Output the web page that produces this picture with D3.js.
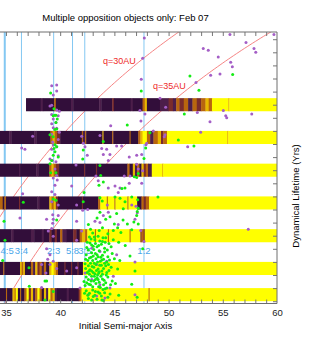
<!DOCTYPE html>
<html>
<head>
    <meta charset="utf-8">
    <title>Multiple opposition objects only</title>
    <script src="https://d3js.org/d3.v7.min.js"></script>
    <style>
        body { margin: 0; background: #fff; }
        text { font-family: "Liberation Sans", Arial, sans-serif; }
    </style>
</head>
<body>
<div id="chart"></div>
<script>

// resonance locations (AU)
var resNames = ["4:5", "3:4", "2:3", "5:8", "3:5", "1:2"];
var resA = [34.89, 36.43, 39.40, 41.14, 42.27, 47.73];

// perihelion guide lines
var qValues = [30, 35];
var qLabels = ["q=30AU", "q=35AU"];

// eccentricity of each lifetime strip
var bandE = [0.30, 0.25, 0.20, 0.15, 0.10, 0.05, 0.01];

// lifetime strips: [a from, a to, level 0..5]
var band1 = [[36.85,38.2,0],[38.2,38.4,1],[38.4,39.45,0],[39.45,39.6,3],[39.6,41.0,0],[41.0,41.2,1],[41.2,43.6,0],[43.6,43.8,1],[43.8,44.8,0],[44.8,44.95,2],
    [44.95,46.5,0],[46.5,46.7,1],[46.7,47.6,0],[47.6,47.8,3],[47.8,48.0,4],[48.0,49.2,0],[49.2,50.0,1],[50.0,50.4,2],[50.4,50.7,1],[50.7,51.0,3],
    [51.0,51.4,2],[51.4,51.8,3],[51.8,52.2,1],[52.2,52.6,3],[52.6,53.0,2],[53.0,53.4,3],[53.4,53.7,4],[53.7,54.0,3],[54.0,55.5,5],[55.5,55.6,4],[55.6,60,5]];
var band2 = [[34.0,35.3,0],[35.3,35.5,1],[35.5,37.6,0],[37.6,37.8,1],[37.8,39.1,0],[39.1,39.3,3],[39.3,39.5,4],[39.5,39.7,3],[39.7,40.0,2],[40.0,42.0,0],
    [42.0,42.1,3],[42.1,42.3,1],[42.3,42.4,3],[42.4,43.9,0],[43.9,44.0,4],[44.0,44.8,0],[44.8,44.9,3],[44.9,46.4,0],[46.4,46.5,3],[46.5,47.2,0],
    [47.2,47.4,3],[47.4,47.6,4],[47.6,48.0,5],[48.0,48.3,3],[48.3,48.6,1],[48.6,49.0,3],[49.0,49.3,4],[49.3,49.5,2],[49.5,49.85,3],[49.85,55.4,5],[55.4,55.5,4],[55.5,60,5]];
var band3 = [[34.0,36.2,0],[36.2,36.3,1],[36.3,37.8,0],[37.8,38.0,1],[38.0,39.0,0],[39.0,39.2,3],[39.2,39.4,4],[39.4,39.6,3],[39.6,39.9,2],[39.9,42.2,0],
    [42.2,42.3,2],[42.3,43.3,0],[43.3,43.4,2],[43.4,46.2,0],[46.2,46.4,3],[46.4,46.7,0],[46.7,46.9,4],[46.9,47.1,1],[47.1,47.3,3],[47.3,47.5,0],
    [47.5,47.7,4],[47.7,47.9,2],[47.9,48.1,3],[48.1,48.45,1],[48.45,49.4,5],[49.4,49.5,4],[49.5,60,5]];
var band4 = [[34.0,34.7,3],[34.7,34.85,0],[34.85,35.0,3],[35.0,36.2,0],[36.2,36.3,2],[36.3,37.9,0],[37.9,38.1,1],[38.1,39.0,0],[39.0,39.2,4],[39.2,39.4,3],
    [39.4,39.6,4],[39.6,39.8,2],[39.8,42.0,0],[42.0,42.1,2],[42.1,43.5,0],[43.5,43.7,3],[43.7,44.3,5],[44.3,44.4,3],[44.4,45.0,5],[45.0,45.1,3],
    [45.1,46.2,5],[46.2,46.3,3],[46.3,47.1,5],[47.1,47.5,0],[47.5,47.7,3],[47.7,47.9,2],[47.9,48.2,3],[48.2,60,5]];
var band5 = [[34.0,35.5,0],[35.5,35.7,1],[35.7,37.3,0],[37.3,37.6,1],[37.6,38.3,0],[38.3,38.5,1],[38.5,39.0,0],[39.0,39.2,2],[39.2,39.5,0],[39.5,39.7,2],
    [39.7,40.0,0],[40.0,40.2,3],[40.2,40.6,1],[40.6,41.2,0],[41.2,41.5,2],[41.5,41.8,0],[41.8,42.0,3],[42.0,42.3,4],[42.3,42.5,3],[42.5,43.2,5],
    [43.2,43.3,3],[43.3,44.4,5],[44.4,44.5,3],[44.5,46.4,5],[46.4,46.5,3],[46.5,47.4,5],[47.4,47.5,2],[47.5,47.7,3],[47.7,47.8,2],[47.8,60,5]];
var band6 = [[34.0,34.75,0],[34.75,34.85,3],[34.85,36.3,0],[36.3,36.45,4],[36.45,36.6,3],[36.6,36.75,4],[36.75,37.3,0],[37.3,37.5,3],[37.5,37.7,1],[37.7,37.9,4],
    [37.9,38.1,2],[38.1,38.3,3],[38.3,38.5,1],[38.5,38.7,3],[38.7,39.0,0],[39.0,39.2,4],[39.2,39.4,5],[39.4,39.6,4],[39.6,39.8,3],[39.8,40.4,0],
    [40.4,40.5,2],[40.5,41.0,0],[41.0,41.1,2],[41.1,41.6,0],[41.6,41.7,2],[41.7,42.1,0],[42.1,60,5]];
var band7 = [[34.0,35.0,0],[35.0,35.1,3],[35.1,35.6,0],[35.6,35.8,4],[35.8,35.9,3],[35.9,36.1,5],[36.1,36.3,0],[36.3,36.4,3],[36.4,36.7,0],[36.7,36.9,3],
    [36.9,37.1,5],[37.1,37.3,2],[37.3,37.5,4],[37.5,37.7,1],[37.7,37.9,3],[37.9,38.1,5],[38.1,38.3,3],[38.3,38.5,0],[38.5,38.7,4],[38.7,38.9,1],
    [38.9,39.1,5],[39.1,39.3,3],[39.3,39.5,4],[39.5,39.7,1],[39.7,40.6,0],[40.6,40.8,1],[40.8,41.7,0],[41.7,41.8,2],[41.8,41.9,3],[41.9,42.0,4],
    [42.0,48.15,5],[48.15,48.25,3],[48.25,60,5]];
var bands = [band1, band2, band3, band4, band5, band6, band7];
var levelColors = ["#320e3a", "#4c1e4a", "#7a2c2c", "#b8660e", "#e8b800", "#ffff00"];

// objects: [a (AU), e]
var purplePts = [[39.22,0.329],[39.68,0.330],[39.68,0.321],[47.76,0.402],[47.61,0.371],[47.48,0.339],
    [55.66,0.407],[59.72,0.407],[53.20,0.386],[53.66,0.383],[57.14,0.395],[57.88,0.386],[58.04,0.380],[54.58,0.373],[55.73,0.365],[55.88,0.358],
    [54.74,0.347],[53.88,0.345],[52.53,0.334],[49.21,0.310],[49.73,0.296],[52.65,0.288],[55.05,0.291],[55.27,0.283],[55.36,0.280],[53.82,0.274],
    [57.67,0.286],[52.96,0.258],[51.76,0.236],[49.67,0.254],[49.60,0.251],[48.59,0.260],[47.91,0.239],[47.82,0.286],[47.45,0.275],[47.36,0.291],
    [44.66,0.268],[37.46,0.252],[36.45,0.234],[36.75,0.232],[41.98,0.252],[42.13,0.241],[42.29,0.236],[43.67,0.253],[43.83,0.233],[44.29,0.232],
    [45.21,0.237],[45.67,0.237],[47.98,0.241],[42.50,0.223],[41.46,0.208],[44.59,0.224],[47.06,0.223],[47.52,0.180],[46.37,0.180],[43.51,0.184],
    [44.44,0.173],[45.06,0.176],[45.36,0.166],[36.29,0.127],[38.75,0.125],[39.31,0.119],[39.22,0.111],[36.54,0.164],[43.98,0.224],[43.30,0.191],
    [45.52,0.173],[41.06,0.176],[46.37,0.220],[47.52,0.224],[45.91,0.191],[46.44,0.191],[47.20,0.202],[44.44,0.215],
    [41.52,0.147],[44.35,0.147],[43.98,0.131],[44.44,0.136],[42.54,0.140],[42.08,0.139],[47.06,0.209],[47.61,0.199],[46.60,0.147],[46.99,0.145],
    [47.11,0.135],[39.36,0.125],[38.90,0.107],[39.36,0.099],[38.75,0.080],[39.06,0.071],[38.85,0.064],[39.36,0.061],[39.06,0.056],[38.69,0.043],
    [39.68,0.050],[38.29,0.056],[38.29,0.021],[40.60,0.046],[41.52,0.051],[41.83,0.020],[41.52,0.122],[41.52,0.093],
    [46.90,0.125],[47.43,0.108],[47.73,0.091],[57.35,0.110],[46.90,0.060],[46.90,0.010],
    [39.22,0.299],[39.68,0.292],[39.92,0.290],[39.22,0.285],[39.82,0.283],[39.36,0.278],[39.22,0.271],[39.61,0.273],[39.36,0.265],[39.92,0.258],
    [39.31,0.243],[39.68,0.236],[39.22,0.232],[39.36,0.315],[39.06,0.298],[39.68,0.264],[39.22,0.255],[39.82,0.247],[39.36,0.239],[39.82,0.222],
    [39.06,0.217],[39.61,0.213],[39.27,0.215],[39.52,0.202],[39.68,0.192],[39.36,0.188],[39.73,0.185],[39.52,0.177],[39.22,0.167],[39.52,0.163],
    [39.22,0.152],[39.82,0.147],[39.31,0.132],[39.82,0.131],
    [43.21,0.122],[43.67,0.120],[45.36,0.117],[41.98,0.107],[42.91,0.081],[43.67,0.076],[44.29,0.061],[43.37,0.056],[42.29,0.043],[42.91,0.033],
    [43.67,0.025],[44.59,0.020],[43.37,0.008],[44.90,0.038],[45.21,0.071],[42.59,0.010],[44.13,0.005]];

var greenPts = [[39.12,0.318],[47.48,0.321],[55.91,0.346],[51.97,0.344],[52.80,0.322],[51.45,0.286],
    [39.52,0.284],[39.36,0.283],[39.43,0.294],[39.61,0.284],[39.73,0.278],[39.68,0.263],[39.06,0.254],[39.36,0.251],[39.52,0.239],[39.43,0.233],
    [46.19,0.269],[43.98,0.244],[47.89,0.234],[42.13,0.231],[48.28,0.257],[50.90,0.246],[52.34,0.237],
    [39.61,0.273],[39.52,0.262],[39.68,0.236],[39.52,0.228],[39.36,0.223],[39.22,0.215],[39.82,0.220],[39.06,0.210],[39.12,0.196],[39.61,0.196],
    [39.36,0.156],[39.61,0.154],[39.68,0.124],
    [42.08,0.217],[43.67,0.207],[43.74,0.192],[43.58,0.177],[43.98,0.182],[45.98,0.173],[45.70,0.172],[42.20,0.166],[46.84,0.190],[47.20,0.195],
    [47.73,0.218],[47.06,0.189],[36.60,0.151],[42.13,0.152],[43.67,0.158],[43.88,0.153],[45.06,0.159],[45.52,0.157],[45.98,0.152],[46.60,0.159],
    [47.15,0.155],[45.82,0.141],[45.21,0.134],[43.67,0.136],[47.11,0.137],[47.20,0.142],[47.06,0.131],[49.02,0.159],
    [47.20,0.118],[46.60,0.109],[47.61,0.080],[46.44,0.069],[46.90,0.046],[46.60,0.026],
    [34.91,0.093],[34.70,0.062],[37.12,0.051],[38.60,0.031],[38.75,0.031],[39.36,0.015],[37.15,0.023],[38.60,0.002],[34.82,0.122],
    [43.4,0.127],[44.2,0.125],[44.6,0.129],[45.0,0.118],[45.8,0.124],[46.2,0.118],[46.8,0.121],[42.6,0.117],[43.9,0.112],[44.9,0.108],
    [45.6,0.105],[43.0,0.104],[43.6,0.108],[44.4,0.103],[42.8,0.110],[45.3,0.112],
    [42.7,0.098],[43.2,0.094],[43.5,0.099],[43.9,0.091],[44.2,0.097],[44.5,0.088],[44.9,0.094],[45.4,0.090],[42.9,0.086],[43.4,0.083],
    [43.8,0.087],[44.1,0.081],[44.7,0.083],[42.5,0.090],[46.0,0.085],
    [42.6,0.078],[42.9,0.074],[43.1,0.079],[43.4,0.071],[43.6,0.077],[43.9,0.070],[44.1,0.075],[44.4,0.068],[44.8,0.073],[42.7,0.066],
    [43.0,0.062],[43.3,0.065],[43.7,0.061],[44.0,0.064],[44.3,0.060],[45.0,0.065],[45.5,0.062],[42.4,0.071],[43.5,0.068],
    [42.3,0.057],[42.6,0.054],[42.8,0.058],[43.1,0.052],[43.3,0.056],[43.5,0.049],[43.8,0.055],[44.0,0.050],[44.2,0.054],[44.5,0.047],
    [42.9,0.046],[43.2,0.042],[43.6,0.045],[43.9,0.041],[44.3,0.044],[44.7,0.052],[45.3,0.049],[42.5,0.044],[42.7,0.041],[44.1,0.058],
    [42.4,0.037],[42.6,0.033],[42.9,0.038],[43.1,0.031],[43.4,0.036],[43.6,0.029],[43.9,0.034],[44.2,0.028],[44.4,0.037],[44.8,0.031],
    [42.8,0.025],[43.0,0.022],[43.3,0.027],[43.7,0.021],[44.0,0.025],[44.3,0.020],[45.1,0.027],[42.3,0.024],[43.5,0.033],[42.2,0.030],
    [42.4,0.016],[42.7,0.012],[43.0,0.017],[43.2,0.009],[43.5,0.014],[43.8,0.008],[44.1,0.013],[44.4,0.006],[42.6,0.004],[42.9,0.002],
    [43.4,0.003],[44.0,0.001],[44.6,0.011],[45.4,0.009],[47.1,0.006],
    [42.85,0.095],[43.25,0.088],[43.65,0.092],[43.05,0.069],[43.45,0.060],[43.85,0.063],[42.95,0.053],[43.35,0.047],[43.75,0.038],[43.15,0.038],
    [42.75,0.048],[43.55,0.022],[43.25,0.015],[42.65,0.026],[44.25,0.040],[43.95,0.018],[43.05,0.084],[44.35,0.078],[42.55,0.062],[43.65,0.055],
    [42.45,0.082],[42.75,0.089],[43.15,0.098],[43.55,0.085],[43.95,0.097],[44.15,0.090],[42.35,0.050],[42.65,0.046],[43.05,0.044],[43.45,0.040],
    [43.85,0.046],[44.05,0.032],[42.45,0.028],[42.85,0.031],[43.25,0.033],[43.65,0.012],[44.15,0.019],[42.55,0.009],[43.05,0.007],[43.85,0.002],
    [42.35,0.064],[42.85,0.067],[43.25,0.073],[43.75,0.067],[44.55,0.063],[44.65,0.025],[43.15,0.058],[43.55,0.043],[42.25,0.012],[44.45,0.056]];

var xLabelTicks = [35, 40, 45, 50, 55, 60];

// plot box
var boxL = 0, boxR = 277, boxT = 32, boxB = 303.5;

var svg = d3.select("#chart")
    .append("svg")
    .attr("width", 310)
    .attr("height", 354);

var x = d3.scaleLinear().domain([34.45, 60]).range([boxL, boxR]);
var y = d3.scaleLinear().domain([-0.0035, 0.411]).range([boxB, boxT]);

svg.append("clipPath").attr("id", "plotclip")
    .append("rect")
    .attr("x", boxL).attr("y", boxT)
    .attr("width", boxR - boxL).attr("height", boxB - boxT);

var plot = svg.append("g").attr("clip-path", "url(#plotclip)");

// resonance lines
plot.selectAll(".res")
    .data(resA)
    .enter()
    .append("line")
    .attr("x1", function (d) { return x(d); })
    .attr("x2", function (d) { return x(d); })
    .attr("y1", boxT)
    .attr("y2", boxB)
    .attr("stroke", "#84c8f2")
    .attr("stroke-width", function (d, i) { return i == 0 ? 2 : 1; });

// q = const curves, e = 1 - q/a
var curve = d3.line()
    .x(function (d) { return x(d[0]); })
    .y(function (d) { return y(d[1]); });
qValues.forEach(function (q) {
    var pts = d3.range(34, 60.01, 0.25).map(function (a) { return [a, 1 - q / a]; });
    plot.append("path")
        .attr("d", curve(pts))
        .attr("fill", "none")
        .attr("stroke", "#f47676")
        .attr("stroke-width", 0.9);
});

// lifetime strips
var bh = y(0) - y(0.02);
bands.forEach(function (runs, i) {
    plot.append("g")
        .selectAll("rect")
        .data(runs)
        .enter()
        .append("rect")
        .attr("x", function (d) { return x(d[0]); })
        .attr("width", function (d) { return x(d[1]) - x(d[0]) + 0.4; })
        .attr("y", y(bandE[i] + 0.01))
        .attr("height", bh)
        .attr("fill", function (d) { return levelColors[d[2]]; });
});

// resonance labels
svg.selectAll(".reslab")
    .data(resNames)
    .enter()
    .append("text")
    .attr("x", function (d, i) { return i == 0 ? 0.5 : x(resA[i]); })
    .attr("y", 254)
    .attr("text-anchor", function (d, i) { return i == 0 ? "start" : "middle"; })
    .attr("fill", "#4aa6ea")
    .style("font-size", "9.5px")
    .text(function (d) { return d; });

// objects
var dots = svg.append("g").attr("clip-path", "url(#plotclip)");
dots.selectAll(".pp")
    .data(purplePts)
    .enter()
    .append("circle")
    .attr("cx", function (d) { return x(d[0]); })
    .attr("cy", function (d) { return y(d[1]); })
    .attr("r", 1.5)
    .attr("fill", "#a45ec6");

dots.selectAll(".gp")
    .data(greenPts)
    .enter()
    .append("circle")
    .attr("cx", function (d) { return x(d[0]); })
    .attr("cy", function (d) { return y(d[1]); })
    .attr("r", 1.5)
    .attr("fill", "#14ec14");

// q labels
svg.selectAll(".qlab")
    .data(qLabels)
    .enter()
    .append("text")
    .attr("x", function (d, i) { return i == 0 ? 103 : 153; })
    .attr("y", function (d, i) { return i == 0 ? 64 : 89; })
    .attr("fill", "#ee2a2a")
    .style("font-size", "9px")
    .text(function (d) { return d; });

// ticks
var tickColor = "#777";
function styleAxis(g) {
    g.select(".domain").remove();
    g.selectAll("line").attr("stroke", tickColor);
}
svg.append("g")
    .attr("transform", "translate(0," + boxT + ")")
    .call(d3.axisBottom(x).tickValues(d3.range(35, 60)).tickSize(4).tickFormat(""))
    .call(styleAxis);
svg.append("g")
    .attr("transform", "translate(0," + boxB + ")")
    .call(d3.axisTop(x).tickValues(d3.range(35, 60)).tickSize(4).tickFormat(""))
    .call(styleAxis);
svg.append("g")
    .attr("transform", "translate(" + boxR + ",0)")
    .call(d3.axisLeft(y).tickValues(d3.range(0, 0.41, 0.02)).tickSize(4).tickFormat(""))
    .call(styleAxis);

// tick labels
svg.append("g")
    .attr("transform", "translate(0," + boxB + ")")
    .call(d3.axisBottom(x).tickValues(xLabelTicks).tickSize(0).tickPadding(6).tickFormat(d3.format("d")))
    .call(function (g) {
        g.select(".domain").remove();
        g.selectAll("text").attr("fill", "#222").style("font-size", "9.5px").style("font-family", "Liberation Sans, Arial, sans-serif");
    });

// frame
svg.append("path")
    .attr("d", "M" + (boxL - 1) + "," + boxT + "H" + boxR + "V" + boxB + "H" + (boxL - 1))
    .attr("fill", "none")
    .attr("stroke", "#6e6e6e")
    .attr("stroke-width", 1);

// titles
svg.append("text")
    .attr("x", 125.5).attr("y", 21)
    .attr("text-anchor", "middle")
    .style("font-size", "9.5px")
    .text("Multiple opposition objects only: Feb 07");

svg.append("text")
    .attr("x", 125.5).attr("y", 329)
    .attr("text-anchor", "middle")
    .style("font-size", "9.5px")
    .text("Initial Semi-major Axis");

svg.append("text")
    .attr("transform", "translate(299,196) rotate(-90)")
    .attr("text-anchor", "middle")
    .style("font-size", "9.5px")
    .text("Dynamical Lifetime (Yrs)");

</script>
</body>
</html>
